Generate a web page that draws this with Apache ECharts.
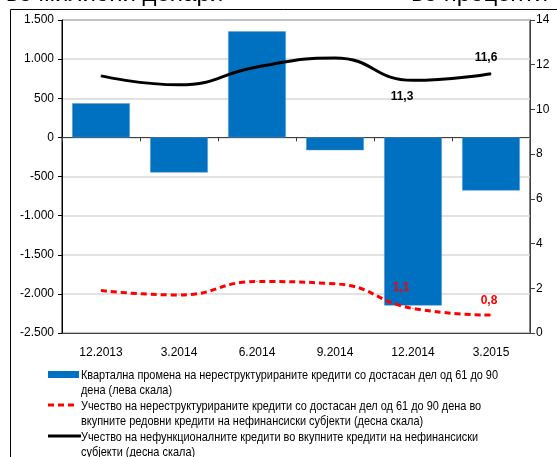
<!DOCTYPE html>
<html><head><meta charset="utf-8">
<script src="https://cdn.jsdelivr.net/npm/echarts@6/dist/echarts.min.js"></script>
<style>html,body{margin:0;padding:0;background:#fff}#c{width:557px;height:457px}</style>
</head><body><div id="c"></div>
<script>
const categories = ['12.2013','3.2014','6.2014','9.2014','12.2014','3.2015'];
const barValues = [435, -450, 1355, -165, -2150, -680];
const redValues = [1.9, 1.7, 2.3, 2.2, 1.1, 0.8];
const blackValues = [11.5, 11.1, 11.9, 12.3, 11.3, 11.6];
const leftTicks = {min: -2500, max: 1500, step: 500};
const rightTicks = {min: 0, max: 14, step: 2};
const legendTexts = [
  ['Квартална промена на нереструктурираните кредити со достасан дел од 61 до 90', 'дена (лева скала)'],
  ['Учество на нереструктурираните кредити со достасан дел од 61 до 90 дена во', 'вкупните редовни кредити на нефинансиски субјекти (десна скала)'],
  ['Учество на нефункционалните кредити во вкупните кредити на нефинансиски', 'субјекти (десна скала)']
];
const leftTitle = 'во милиони денари';
const rightTitle = 'во проценти';

const FONT = 'Liberation Sans, Arial, sans-serif';
const LEGEND_FONT = '13px ' + FONT;
const fmt = v => (v < 0 ? '-' : '') + Math.abs(v).toString().replace(/\B(?=(\d{3})+(?!\d))/g, '.');
const comma = v => v.toFixed(1).replace('.', ',');

// horizontal compression so the legend's first line has the reference width (narrow face)
const cv = document.createElement('canvas').getContext('2d');
cv.font = LEGEND_FONT;
const legendScaleX = 417 / cv.measureText(legendTexts[0][0]).width;

const chart = echarts.init(document.getElementById('c'), null, {renderer: 'canvas'});
const blackData = blackValues.map((v, i) => {
  if (i === 4) return {value: v, label: {show: true, position: 'bottom', distance: 10, offset: [-11, 0]}};
  if (i === 5) return {value: v, label: {show: true, position: 'top', distance: 9, offset: [-5, 0]}};
  return v;
});
const redData = redValues.map((v, i) => {
  if (i === 4) return {value: v, label: {show: true, position: 'top', distance: 14, offset: [-12, 0]}};
  if (i === 5) return {value: v, label: {show: true, position: 'top', distance: 8, offset: [-2, 0]}};
  return v;
});

const legendGraphics = [];
const rowY = [375, 406, 437];
legendGraphics.push({type: 'rect', shape: {x: 48, y: 371, width: 31, height: 7}, style: {fill: '#0070C0'}});
legendGraphics.push({type: 'line', shape: {x1: 48, y1: 405, x2: 77, y2: 405}, style: {stroke: '#ff0000', lineWidth: 3, lineDash: [6, 4]}});
legendGraphics.push({type: 'line', shape: {x1: 48, y1: 436, x2: 81, y2: 436}, style: {stroke: '#000', lineWidth: 3}});
legendTexts.forEach((lines, i) => {
  lines.forEach((t, j) => {
    legendGraphics.push({type: 'text', x: 81, y: rowY[i] + j * 15.6, scaleX: legendScaleX,
      style: {text: t, fill: '#000', font: LEGEND_FONT, textVerticalAlign: 'middle'}});
  });
});

chart.setOption({
  animation: false,
  textStyle: {fontFamily: FONT},
  grid: {left: 62, right: 27, top: 20, bottom: 124, show: true, borderColor: '#000', borderWidth: 1},
  xAxis: [
    {type: 'category', data: categories, position: 'bottom',
     axisLine: {onZero: true, lineStyle: {color: '#404040', width: 1}},
     axisTick: {show: true, length: 4, lineStyle: {color: '#404040'}},
     axisLabel: {show: false}, splitLine: {show: false}},
    {type: 'category', data: categories, position: 'bottom',
     axisLine: {onZero: false, show: true, lineStyle: {color: '#404040'}},
     axisTick: {show: false},
     axisLabel: {show: true, color: '#000', fontSize: 12, margin: 14, fontFamily: FONT}}
  ],
  yAxis: [
    {type: 'value', min: leftTicks.min, max: leftTicks.max, interval: leftTicks.step,
     axisLine: {show: true, lineStyle: {color: '#000'}},
     axisTick: {show: true, length: 4, lineStyle: {color: '#000'}},
     axisLabel: {formatter: fmt, color: '#000', fontSize: 12, margin: 8},
     splitLine: {show: true, lineStyle: {color: '#d9d9d9', width: 1.5}}},
    {type: 'value', min: rightTicks.min, max: rightTicks.max, interval: rightTicks.step, position: 'right',
     axisLine: {show: true, lineStyle: {color: '#404040'}},
     axisTick: {show: true, length: 5, lineStyle: {color: '#404040'}},
     axisLabel: {color: '#000', fontSize: 12, margin: 6},
     splitLine: {show: false}}
  ],
  series: [
    {type: 'bar', xAxisIndex: 0, yAxisIndex: 0, data: barValues, barCategoryGap: '26%',
     itemStyle: {color: '#0070C0', borderColor: '#5b9bd5', borderWidth: 0.5}},
    {type: 'line', xAxisIndex: 0, yAxisIndex: 1, data: redData, smooth: 0.5,
     symbol: 'circle', symbolSize: 1, showSymbol: true, itemStyle: {color: '#ff0000'},
     lineStyle: {color: '#ff0000', width: 3, type: [6, 4]},
     label: {show: false, formatter: p => comma(p.value), color: '#ff0000', fontWeight: 'bold', fontSize: 12}},
    {type: 'line', xAxisIndex: 0, yAxisIndex: 1, data: blackData, smooth: 0.5,
     symbol: 'circle', symbolSize: 1, showSymbol: true, itemStyle: {color: '#000'},
     lineStyle: {color: '#000', width: 3},
     label: {show: false, formatter: p => comma(p.value), color: '#000', fontWeight: 'bold', fontSize: 12}}
  ],
  graphic: [
    {type: 'line', shape: {x1: 10.5, y1: 9.5, x2: 557, y2: 9.5}, style: {stroke: '#000', lineWidth: 1}},
    {type: 'line', shape: {x1: 10.5, y1: 9.5, x2: 10.5, y2: 457}, style: {stroke: '#000', lineWidth: 1}},
    {type: 'text', x: 6, y: 6, style: {text: leftTitle, fill: '#000', font: '24px ' + FONT, textVerticalAlign: 'bottom'}},
    {type: 'text', x: 548, y: 6, style: {text: rightTitle, fill: '#000', font: '24px ' + FONT, textAlign: 'right', textVerticalAlign: 'bottom'}}
  ].concat(legendGraphics)
});
</script></body></html>
